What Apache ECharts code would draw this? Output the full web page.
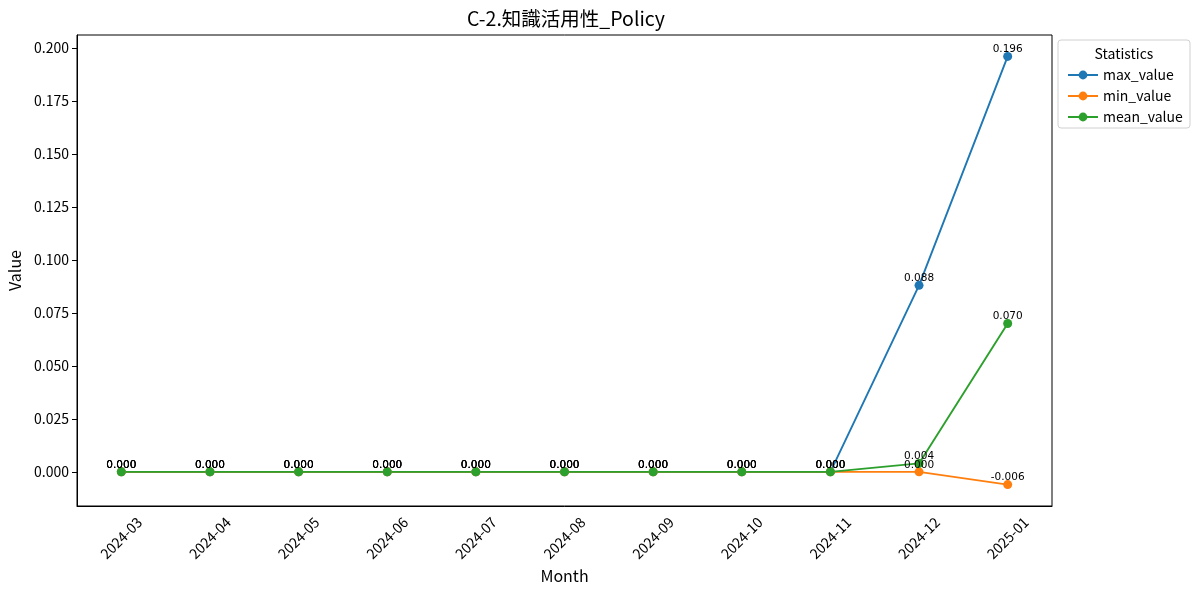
<!DOCTYPE html>
<html lang="ja" style="height: 100%">
<head>
  <meta charset="utf-8">
</head>
<body style="height: 100%; margin: 0; background: #fff">
  <div id="container" style="width: 1200px; height: 595px"></div>
  <script type="text/javascript" src="https://cdn.jsdelivr.net/npm/echarts@6/dist/echarts.min.js"></script>
  <script type="text/javascript">
    // data
    var months = ['2024-03', '2024-04', '2024-05', '2024-06', '2024-07', '2024-08',
      '2024-09', '2024-10', '2024-11', '2024-12', '2025-01'];
    var maxValue = [0, 0, 0, 0, 0, 0, 0, 0, 0, 0.088, 0.196];
    var minValue = [0, 0, 0, 0, 0, 0, 0, 0, 0, 0, -0.006];
    var meanValue = [0, 0, 0, 0, 0, 0, 0, 0, 0, 0.004, 0.070];
    var yTicks = [0, 0.025, 0.05, 0.075, 0.1, 0.125, 0.15, 0.175, 0.2];

    var FONT = '"Noto Sans CJK JP", "Noto Sans", sans-serif';

    var dom = document.getElementById('container');
    var myChart = echarts.init(dom, null, { renderer: 'canvas' });

    function makeSeries(name, data, color) {
      return {
        name: name,
        type: 'line',
        data: data,
        symbol: 'circle',
        symbolSize: 9,
        showAllSymbol: true,
        itemStyle: { color: color },
        lineStyle: { color: color, width: 1.9 },
        label: {
          show: true,
          position: 'top',
          distance: -3,
          color: '#000',
          fontFamily: 'DejaVu Sans, sans-serif',
          fontSize: 10.5,
          formatter: function (p) { return p.value.toFixed(3); }
        },
        emphasis: { disabled: true },
        animation: false
      };
    }

    var option = {
      backgroundColor: '#fff',
      textStyle: { fontFamily: FONT },
      title: [{
        text: 'C-2.知識活用性_Policy',
        left: 561,
        top: 4,
        textAlign: 'center',
        textStyle: { fontFamily: FONT, fontSize: 19.5, fontWeight: 'normal', color: '#000' }
      }],
      graphic: [{
        type: 'rect',
        shape: { x: 1058, y: 40, width: 132, height: 88, r: 3 },
        style: { fill: '#fff', stroke: '#d0d0d0', lineWidth: 1 },
        z: 5
      }, {
        type: 'text',
        x: 1124,
        y: 54,
        style: { text: 'Statistics', fill: '#000', font: '14px ' + FONT, align: 'center', verticalAlign: 'middle' },
        z: 6
      }],
      legend: {
        orient: 'vertical',
        left: 1062,
        top: 63,
        itemWidth: 30,
        itemHeight: 11,
        itemGap: 7,
        z: 10,
        textStyle: { fontFamily: FONT, fontSize: 14, color: '#000' },
        data: ['max_value', 'min_value', 'mean_value']
      },
      grid: {
        left: 77,
        right: 148,
        top: 35,
        bottom: 89,
        show: true,
        borderColor: '#000',
        borderWidth: 1,
        containLabel: false,
        outerBoundsMode: 'none'
      },
      xAxis: {
        type: 'category',
        data: months,
        boundaryGap: true,
        name: 'Month',
        nameLocation: 'middle',
        nameGap: 59,
        nameTextStyle: { fontFamily: FONT, fontSize: 16, color: '#000' },
        axisLine: { onZero: false, lineStyle: { color: '#000' } },
        axisTick: { alignWithLabel: true, length: 5, lineStyle: { color: '#000' } },
        axisLabel: {
          rotate: 45, fontSize: 14, color: '#000', fontFamily: FONT,
          align: 'center', verticalAlign: 'middle', margin: 32, interval: 0
        },
        splitLine: { show: false }
      },
      yAxis: {
        type: 'value',
        min: -0.0161,
        max: 0.2061,
        name: 'Value',
        nameLocation: 'middle',
        nameGap: 53,
        nameTextStyle: { fontFamily: FONT, fontSize: 16, color: '#000' },
        axisLine: { show: true, onZero: false, lineStyle: { color: '#000' } },
        axisTick: { show: true, length: 5, customValues: yTicks, lineStyle: { color: '#000' } },
        axisLabel: {
          fontSize: 14, color: '#000', fontFamily: FONT, margin: 8,
          customValues: yTicks,
          formatter: function (v) { return v.toFixed(3); }
        },
        splitLine: { show: false }
      },
      series: [
        makeSeries('max_value', maxValue, '#1f77b4'),
        makeSeries('min_value', minValue, '#ff7f0e'),
        makeSeries('mean_value', meanValue, '#2ca02c')
      ]
    };

    myChart.setOption(option);
    window.addEventListener('resize', myChart.resize);
  </script>
</body>
</html>
